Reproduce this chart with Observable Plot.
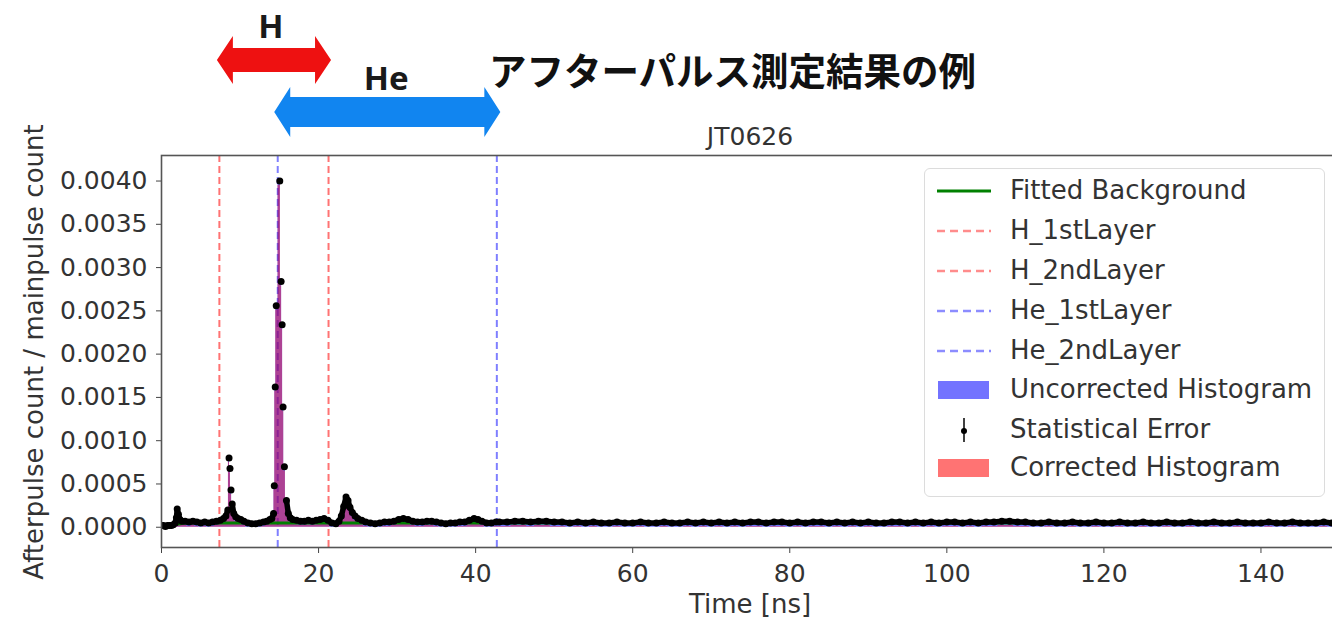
<!DOCTYPE html>
<html>
<head>
<meta charset="utf-8">
<script src="https://cdn.jsdelivr.net/npm/d3@7"></script>
<script src="https://cdn.jsdelivr.net/npm/@observablehq/plot@0.6"></script>
<style>
  html, body { margin: 0; padding: 0; background: #fff; }
  body { width: 1332px; height: 620px; overflow: hidden; position: relative; font-family: "DejaVu Sans", sans-serif; }
  #chart { position: absolute; left: 0; top: 0; width: 1400px; }
  #chart svg { max-width: none !important; }
  #overlay { position: absolute; left: 0; top: 0; pointer-events: none; }
  #legend { position: absolute; left: 924px; top: 168px; width: 401px; height: 329px;
            border: 1.5px solid #dcdcdc; border-radius: 6px; background: rgba(255,255,255,0.85); box-sizing: border-box; }
  .row { position: absolute; left: 0; height: 0; }
  .row svg { position: absolute; left: 10px; top: -14px; }
  .row span { position: absolute; left: 85px; top: -16px; font: 26px "DejaVu Sans", sans-serif; color: #333; white-space: nowrap; line-height: 30px; }
</style>
</head>
<body>
<div id="chart"></div>
<svg id="overlay" width="1332" height="620"></svg>
<div id="legend"></div>
<script>
// ---- data ----
const timeNs = [
  0, 0.25, 0.5, 0.75, 1, 1.25, 1.5, 1.75, 1.9, 2, 2.15, 2.35, 2.6, 3, 3.5, 4, 4.5, 5, 5.5, 6,
  6.5, 7, 7.5, 7.9, 8.2, 8.45, 8.6, 8.72, 8.85, 9, 9.2, 9.45, 9.75, 10.1, 10.5, 11, 11.5, 12, 12.5, 13,
  13.4, 13.8, 14.05, 14.27, 14.36, 14.48, 14.61, 15.06, 15.23, 15.36, 15.48, 15.65, 15.91, 16.15, 16.4, 16.7, 17.2, 17.7, 18.2, 18.7,
  19.2, 19.7, 20.2, 20.7, 21.2, 21.7, 22.2, 22.6, 22.9, 23.2, 23.5, 23.75, 24, 24.3, 24.65, 25, 25.5, 26, 26.6, 27.2,
  27.8, 28.4, 29, 29.6, 30.2, 30.8, 31.4, 32, 32.6, 33.2, 33.8, 34.4, 35, 35.6, 36.2, 36.8, 37.4, 38, 38.6, 39.2,
  39.8, 40.3, 40.8, 41.4, 42, 42.6,
  43, 44, 45, 46, 47, 48, 49, 50, 51, 52,
  53, 54, 55, 56, 57, 58, 59, 60, 61, 62,
  63, 64, 65, 66, 67, 68, 69, 70, 71, 72,
  73, 74, 75, 76, 77, 78, 79, 80, 81, 82,
  83, 84, 85, 86, 87, 88, 89, 90, 91, 92,
  93, 94, 95, 96, 97, 98, 99, 100, 101, 102,
  103, 104, 105, 106, 107, 108, 109, 110, 111, 112,
  113, 114, 115, 116, 117, 118, 119, 120, 121, 122,
  123, 124, 125, 126, 127, 128, 129, 130, 131, 132,
  133, 134, 135, 136, 137, 138, 139, 140, 141, 142,
  143, 144, 145, 146, 147, 148, 149, 150
];
const ratio = [
  0.00002, 0.00002, 0.00001, 0.00002, 0.00002, 0.00002, 0.00003, 0.00005, 0.00011, 0.00021, 0.00015, 0.00009, 0.00007, 0.00007, 0.00006, 0.00007, 0.00006, 0.00005, 0.00006, 0.00005,
  0.00006, 0.00007, 0.00008, 0.00010, 0.00013, 0.00020, 0.00080, 0.00068, 0.00043, 0.00027, 0.00016, 0.00012, 0.00010, 0.00009, 0.00007, 0.00005, 0.00004, 0.00004, 0.00005, 0.00006,
  0.00007, 0.00009, 0.00010, 0.00016, 0.00048, 0.00162, 0.00256, 0.00400, 0.00284, 0.00234, 0.00139, 0.00070, 0.00031, 0.00016, 0.00011, 0.00009, 0.00008, 0.00007, 0.00007, 0.00008,
  0.00007, 0.00008, 0.00009, 0.00010, 0.00008, 0.00005, 0.00004, 0.00007, 0.00013, 0.00024, 0.00035, 0.00031, 0.00023, 0.00017, 0.00013, 0.00010, 0.00008, 0.00006, 0.00005, 0.00004,
  0.00005, 0.00006, 0.00006, 0.00007, 0.00009, 0.00010, 0.00009, 0.00007, 0.00006, 0.00006, 0.00007, 0.00007, 0.00006, 0.00005, 0.00004, 0.00005, 0.00005, 0.00006, 0.00006, 0.00008,
  0.00010, 0.00009, 0.00007, 0.00005, 0.00005, 0.00006,
  0.00006, 0.00006, 0.00007, 0.00007, 0.00006, 0.00007, 0.00007, 0.00006, 0.00006, 0.00005,
  0.00006, 0.00005, 0.00006, 0.00005, 0.00005, 0.00006, 0.00005, 0.00005, 0.00006, 0.00005,
  0.00005, 0.00006, 0.00005, 0.00005, 0.00006, 0.00005, 0.00006, 0.00005, 0.00006, 0.00005,
  0.00006, 0.00005, 0.00006, 0.00006, 0.00005, 0.00006, 0.00006, 0.00005, 0.00006, 0.00005,
  0.00006, 0.00006, 0.00005, 0.00006, 0.00005, 0.00006, 0.00005, 0.00006, 0.00005, 0.00005,
  0.00006, 0.00006, 0.00005, 0.00006, 0.00005, 0.00006, 0.00005, 0.00006, 0.00006, 0.00005,
  0.00006, 0.00005, 0.00006, 0.00006, 0.00007, 0.00007, 0.00006, 0.00006, 0.00005, 0.00005,
  0.00006, 0.00005, 0.00005, 0.00006, 0.00005, 0.00005, 0.00006, 0.00005, 0.00005, 0.00006,
  0.00005, 0.00005, 0.00006, 0.00005, 0.00005, 0.00006, 0.00005, 0.00005, 0.00006, 0.00005,
  0.00005, 0.00006, 0.00005, 0.00005, 0.00006, 0.00005, 0.00005, 0.00005, 0.00006, 0.00005,
  0.00005, 0.00006, 0.00005, 0.00005, 0.00005, 0.00006, 0.00005, 0.00005
];
const bgTime  = [0, 1.5, 3, 10, 20, 30, 40, 60, 80, 100, 120, 150];
const bgRatio = [0.00001, 0.00003, 0.00005, 0.00005, 0.00005, 0.00005, 0.00005, 0.00005, 0.00005, 0.00005, 0.00005, 0.00005];
const hLayers  = [7.37, 21.27];   // H_1stLayer, H_2ndLayer
const heLayers = [14.8, 42.7];    // He_1stLayer, He_2ndLayer
const xTicks = [0, 20, 40, 60, 80, 100, 120, 140];
const yTicks = [0, 0.0005, 0.001, 0.0015, 0.002, 0.0025, 0.003, 0.0035, 0.004];
const legendLabels = ["Fitted Background", "H_1stLayer", "H_2ndLayer", "He_1stLayer", "He_2ndLayer",
                      "Uncorrected Histogram", "Statistical Error", "Corrected Histogram"];
const chartTitle = "JT0626";
const xLabel = "Time [ns]";
const yLabel = "Afterpulse count / mainpulse count";
const slideTitle = "アフターパルス測定結果の例";

// ---- build ----
const bgAt = d3.scaleLinear(bgTime, bgRatio).clamp(true);
const hist = timeNs.map((t, i) => ({t, v: ratio[i], c: Math.max(0, ratio[i] - bgAt(t))}));
const bg = bgTime.map((t, i) => ({t, v: bgRatio[i]}));

const chart = Plot.plot({
  width: 1340, height: 620,
  marginLeft: 161, marginRight: 1, marginTop: 155, marginBottom: 73,
  x: {domain: [0, 150]},
  y: {domain: [-0.000234, 0.004295]},
  style: {fontFamily: "DejaVu Sans", fontSize: "25px", color: "#333", background: "transparent", overflow: "visible", maxWidth: "none"},
  marks: [
    Plot.ruleX(hLayers, {x: d => d, stroke: "red", strokeOpacity: 0.55, strokeWidth: 2, strokeDasharray: "7,4"}),
    Plot.ruleX(heLayers, {x: d => d, stroke: "blue", strokeOpacity: 0.5, strokeWidth: 2, strokeDasharray: "7,4"}),
    Plot.areaY(hist, {x: "t", y: "v", curve: "step", fill: "blue", fillOpacity: 0.55, clip: true}),
    Plot.areaY(hist, {x: "t", y: "c", curve: "step", fill: "red", fillOpacity: 0.42, clip: true}),
    Plot.line(bg, {x: "t", y: "v", stroke: "green", strokeWidth: 3, clip: true}),
    Plot.line(hist, {x: "t", y: d => d.v > 0.0004 ? NaN : d.v, stroke: "black", strokeWidth: 5.5, clip: true}),
    Plot.dot(hist, {x: "t", y: "v", r: 3.5, fill: "black", clip: true}),
    Plot.axisX({ticks: xTicks, tickSize: 6, tickPadding: 11, fontSize: 25, label: null, stroke: "#444", fill: "#333"}),
    Plot.axisY({ticks: yTicks, tickSize: 5, tickPadding: 9, fontSize: 25, label: null, stroke: "#444", fill: "#333",
                tickFormat: d3.format(".4f")}),
    Plot.frame({stroke: "#555", strokeWidth: 1.6})
  ]
});
document.getElementById("chart").appendChild(chart);

// ---- overlay annotations (positions from the chart's x scale) ----
const xs = chart.scale("x");
const ov = d3.select("#overlay");
function arrow(x1, x2, cy, bh, hh, hl, color) {
  const pts = [[x1, cy], [x1 + hl, cy - hh], [x1 + hl, cy - bh], [x2 - hl, cy - bh], [x2 - hl, cy - hh],
               [x2, cy], [x2 - hl, cy + hh], [x2 - hl, cy + bh], [x1 + hl, cy + bh], [x1 + hl, cy + hh]];
  ov.append("polygon").attr("points", pts.map(p => p.join(",")).join(" ")).attr("fill", color);
}
const hx1 = xs.apply(hLayers[0]) - 2, hx2 = xs.apply(hLayers[1]) + 3;
const ex1 = xs.apply(heLayers[0]) - 3, ex2 = xs.apply(heLayers[1]) + 4;
arrow(hx1, hx2, 60, 12, 24, 16, "#ee1111");
arrow(ex1, ex2, 112, 15, 25, 16, "#1185f0");
ov.append("text").attr("x", (hx1 + hx2) / 2 - 3).attr("y", 25).attr("text-anchor", "middle").attr("dominant-baseline", "central")
  .attr("font-family", "Noto Sans").attr("font-weight", "bold").attr("font-size", 33).attr("fill", "#1a1a1a").text("H");
ov.append("text").attr("x", (ex1 + ex2) / 2 - 1).attr("y", 77).attr("text-anchor", "middle").attr("dominant-baseline", "central")
  .attr("font-family", "Noto Sans").attr("font-weight", "bold").attr("font-size", 33).attr("fill", "#1a1a1a").text("He");
ov.append("text").attr("x", 489).attr("y", 68).attr("dominant-baseline", "central")
  .attr("font-family", "Noto Sans CJK JP").attr("font-weight", "bold").attr("font-size", 37.5).attr("fill", "#111").text(slideTitle);
ov.append("text").attr("x", 750).attr("y", 136).attr("text-anchor", "middle").attr("dominant-baseline", "central")
  .attr("font-family", "DejaVu Sans").attr("font-size", 25).attr("fill", "#333").text(chartTitle);
ov.append("text").attr("x", 750).attr("y", 604).attr("text-anchor", "middle").attr("dominant-baseline", "central")
  .attr("font-family", "DejaVu Sans").attr("font-size", 26).attr("fill", "#333").text(xLabel);
ov.append("text").attr("transform", "translate(34,352) rotate(-90)").attr("text-anchor", "middle").attr("dominant-baseline", "central")
  .attr("font-family", "DejaVu Sans").attr("font-size", 26).attr("fill", "#333").text(yLabel);

// ---- legend ----
const handles = [
  '<line x1="2" y1="14" x2="56" y2="14" stroke="green" stroke-width="3"/>',
  '<line x1="2" y1="14" x2="56" y2="14" stroke="red" stroke-opacity="0.45" stroke-width="2.5" stroke-dasharray="8,5"/>',
  '<line x1="2" y1="14" x2="56" y2="14" stroke="red" stroke-opacity="0.45" stroke-width="2.5" stroke-dasharray="8,5"/>',
  '<line x1="2" y1="14" x2="56" y2="14" stroke="blue" stroke-opacity="0.45" stroke-width="2.5" stroke-dasharray="8,5"/>',
  '<line x1="2" y1="14" x2="56" y2="14" stroke="blue" stroke-opacity="0.45" stroke-width="2.5" stroke-dasharray="8,5"/>',
  '<rect x="3" y="5" width="51" height="18" fill="blue" fill-opacity="0.55"/>',
  '<line x1="29" y1="2" x2="29" y2="26" stroke="black" stroke-width="1.5"/><circle cx="29" cy="15" r="3" fill="black"/>',
  '<rect x="3" y="5" width="51" height="18" fill="red" fill-opacity="0.55"/>'
];
const rowY = [22, 62, 102, 142, 182, 221, 261, 299];
const lg = document.getElementById("legend");
legendLabels.forEach((lab, i) => {
  const r = document.createElement("div");
  r.className = "row";
  r.style.top = rowY[i] + "px";
  r.innerHTML = '<svg width="60" height="28">' + handles[i] + '</svg><span>' + lab + '</span>';
  lg.appendChild(r);
});
</script>
</body>
</html>
